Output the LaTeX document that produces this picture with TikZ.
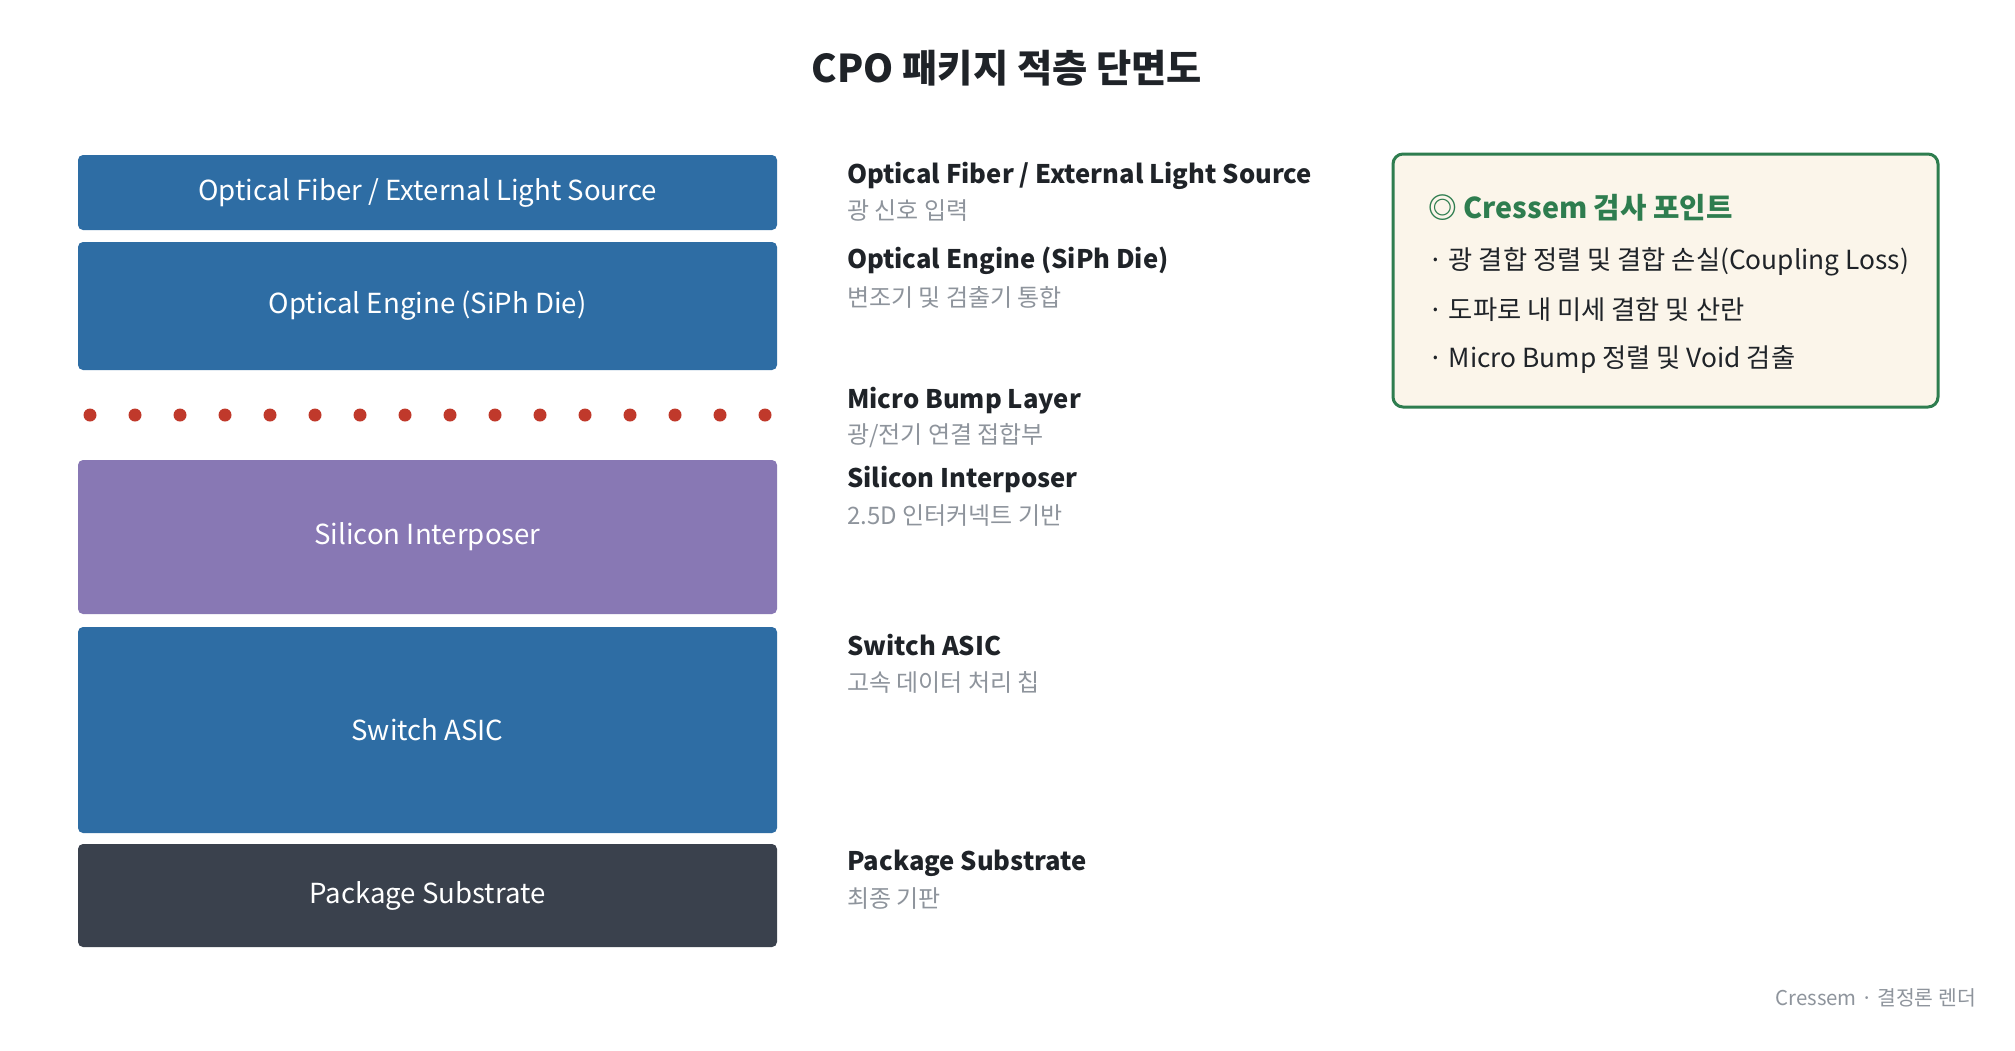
\documentclass[tikz,border=0pt]{standalone}
\usepackage{fontspec}
\setmainfont{Noto Sans CJK KR}
\definecolor{layerblue}{HTML}{2E6DA4}
\definecolor{layerpurple}{HTML}{8878B4}
\definecolor{layerdark}{HTML}{3A414D}
\definecolor{bumpred}{HTML}{C0392B}
\definecolor{inspgreen}{HTML}{2E7D4F}
\definecolor{inspfill}{HTML}{FBF5EA}
\definecolor{maintext}{HTML}{1F2328}
\definecolor{subtext}{HTML}{8E949C}
\begin{document}
\begin{tikzpicture}[x=1pt,y=-1pt,
  layer/.style={rounded corners=5pt, minimum width=699pt, inner sep=0pt, text=white, font=\fontsize{27.6}{32}\selectfont},
  lbl/.style={anchor=west, inner sep=0pt, text=maintext, font=\fontsize{25.6}{30}\selectfont\bfseries},
  sublbl/.style={anchor=west, inner sep=0pt, text=subtext, font=\fontsize{24}{28}\selectfont},
  bump/.style={circle, fill=bumpred, minimum size=13pt, inner sep=0pt},
  item/.style={anchor=west, inner sep=0pt, text=maintext, font=\fontsize{26.3}{30}\selectfont}]
\useasboundingbox[fill=white] (0,0) rectangle (2015,1050);
\node[text=maintext, font=\fontsize{38.3}{44}\selectfont\bfseries] (title) at (1007,68) {CPO 패키지 적층 단면도};
% layers
\node[layer, fill=layerblue, minimum height=75pt] (fiber) at (427.5,192.5) {\raisebox{-3pt}{Optical Fiber / External Light Source}};
\node[layer, fill=layerblue, minimum height=128pt] (engine) at (427.5,306) {\raisebox{-3pt}{Optical Engine (SiPh Die)}};
\foreach \i in {0,...,15} {\node[bump] (bump\i) at (90+45*\i,415) {};}
\node[layer, fill=layerpurple, minimum height=154pt] (interposer) at (427.5,537) {\raisebox{-3pt}{Silicon Interposer}};
\node[layer, fill=layerblue, minimum height=206pt] (asic) at (427.5,730) {\raisebox{-1pt}{Switch ASIC}};
\node[layer, fill=layerdark, minimum height=103pt] (substrate) at (427.5,895.5) {\raisebox{-3pt}{Package Substrate}};
% labels
\node[lbl] (l1) at (847,176) {Optical Fiber / External Light Source};
\node[sublbl] (s1) at (847,211) {광 신호 입력};
\node[lbl] (l2) at (847,261) {Optical Engine (SiPh Die)};
\node[sublbl] (s2) at (847,297) {변조기 및 검출기 통합};
\node[lbl] (l3) at (847,401) {Micro Bump Layer};
\node[sublbl] (s3) at (847,436) {광/전기 연결 접합부};
\node[lbl] (l4) at (847,480) {Silicon Interposer};
\node[sublbl] (s4) at (847,516) {2.5D 인터커넥트 기반};
\node[lbl] (l5) at (847,645) {Switch ASIC};
\node[sublbl] (s5) at (847,682) {고속 데이터 처리 칩};
\node[lbl] (l6) at (847,863) {Package Substrate};
\node[sublbl] (s6) at (847,899) {최종 기판};
% inspection box
\draw[draw=inspgreen, fill=inspfill, line width=3pt, rounded corners=10pt] (1393,154) rectangle (1938,407);
\node[anchor=west, inner sep=0pt, text=inspgreen, font=\fontsize{28.7}{33}\selectfont\bfseries] (insp) at (1428,208) {◎ Cressem 검사 포인트};
\node[item] (i1) at (1428,262) {· 광 결합 정렬 및 결합 손실(Coupling Loss)};
\node[item] (i2) at (1428,310) {· 도파로 내 미세 결함 및 산란};
\node[item] (i3) at (1428,360) {· Micro Bump 정렬 및 Void 검출};
% footer
\node[anchor=east, inner sep=0pt, text=subtext, font=\fontsize{20.4}{24}\selectfont] (footer) at (1976,998) {Cressem · 결정론 렌더};
\end{tikzpicture}
\end{document}
